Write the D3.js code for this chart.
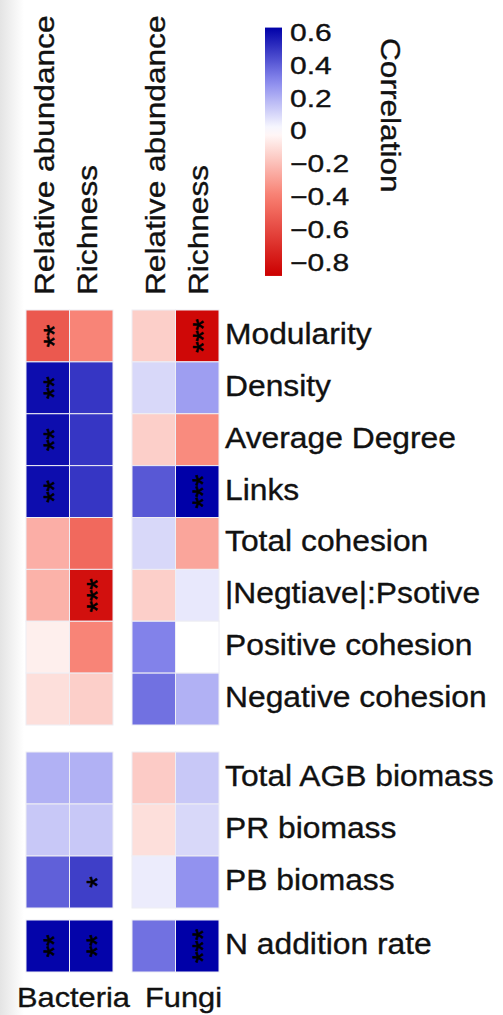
<!DOCTYPE html>
<html>
<head>
<meta charset="utf-8">
<script src="https://cdn.jsdelivr.net/npm/d3@7"></script>
<style>
  body { margin: 0; background: #fff; }
  svg text { font-family: "Liberation Sans", Arial, sans-serif; fill: #111; stroke: #111; stroke-width: 0.35px; }
</style>
</head>
<body>
<svg id="chart"></svg>
<script>
// row and column names
var row_labels = ["Modularity", "Density", "Average Degree", "Links", "Total cohesion",
  "|Negtiave|:Psotive", "Positive cohesion", "Negative cohesion",
  "Total AGB biomass", "PR biomass", "PB biomass", "N addition rate"];
var col_labels = ["Relative abundance", "Richness"];
var groups = ["Bacteria", "Fungi"];

// correlation values
var bac_ra   = [-0.54, 0.60, 0.60, 0.60, -0.25, -0.24, -0.05, -0.10, 0.20, 0.14, 0.40, 0.62];
var bac_rich = [-0.38, 0.50, 0.50, 0.50, -0.48, -0.82, -0.38, -0.15, 0.20, 0.14, 0.48, 0.62];
var fun_ra   = [-0.15, 0.10, -0.15, 0.42, 0.10, -0.15, 0.32, 0.36, -0.16, -0.10, 0.05, 0.36];
var fun_rich = [-0.85, 0.25, -0.36, 0.63, -0.28, 0.06, 0.00, 0.20, 0.14, 0.10, 0.28, 0.63];

// significance stars
var bac_ra_sig   = ["**", "**", "**", "**", "", "", "", "", "", "", "", "**"];
var bac_rich_sig = ["", "", "", "", "", "***", "", "", "", "", "*", "**"];
var fun_ra_sig   = ["", "", "", "", "", "", "", "", "", "", "", ""];
var fun_rich_sig = ["***", "", "", "***", "", "", "", "", "", "", "", "***"];

// legend ticks
var legend_ticks = [0.6, 0.4, 0.2, 0, -0.2, -0.4, -0.6, -0.8];
var value_range = [-0.885, 0.63];

var width = 503, height = 1015;
var svg = d3.select("#chart").attr("width", width).attr("height", height);

// faint grey at the left edge
var defs = svg.append("defs");
var edge = defs.append("linearGradient").attr("id", "edge");
edge.append("stop").attr("offset", "0%").attr("stop-color", "#e4e4e4");
edge.append("stop").attr("offset", "100%").attr("stop-color", "#ffffff");
svg.append("rect").attr("x", 0).attr("y", 0).attr("width", 24).attr("height", height)
   .attr("fill", "url(#edge)");

var color = d3.scaleLinear()
  .domain([-0.88, -0.4, 0, 0.3, 0.63])
  .range(["#cc0000", "#f87e70", "#ffffff", "#8a8aee", "#0000a8"])
  .clamp(true);

// columns: one band scale per group
var x_bac = d3.scaleBand().domain(col_labels).range([26, 113]);
var x_fun = d3.scaleBand().domain(col_labels).range([132, 219]);

// rows sit in three blocks
var blocks = [
  { rows: row_labels.slice(0, 8), range: [310, 725] },
  { rows: row_labels.slice(8, 11), range: [752, 908] },
  { rows: row_labels.slice(11), range: [920, 972] }
];
var y_scales = blocks.map(b => d3.scaleBand().domain(b.rows).range(b.range));
function y_of(name) {
  for (var i = 0; i < blocks.length; i++) {
    if (blocks[i].rows.indexOf(name) >= 0) return y_scales[i];
  }
}

var series = [
  { x: x_bac, col: col_labels[0], vals: bac_ra, sig: bac_ra_sig },
  { x: x_bac, col: col_labels[1], vals: bac_rich, sig: bac_rich_sig },
  { x: x_fun, col: col_labels[0], vals: fun_ra, sig: fun_ra_sig },
  { x: x_fun, col: col_labels[1], vals: fun_rich, sig: fun_rich_sig }
];

var cells = [];
series.forEach(function(s) {
  row_labels.forEach(function(r, i) {
    cells.push({ x: s.x, col: s.col, row: r, v: s.vals[i], sig: s.sig[i] });
  });
});

var g = svg.append("g");
g.selectAll("rect.cell")
  .data(cells)
  .enter()
  .append("rect")
  .attr("class", "cell")
  .attr("x", d => d.x(d.col))
  .attr("y", d => y_of(d.row)(d.row))
  .attr("width", d => d.x.bandwidth())
  .attr("height", d => y_of(d.row).bandwidth())
  .attr("fill", d => color(d.v))
  .attr("stroke", "#eeeef4")
  .attr("stroke-width", 1);

g.selectAll("text.sig")
  .data(cells.filter(d => d.sig !== ""))
  .enter()
  .append("text")
  .attr("class", "sig")
  .attr("transform", function(d) {
    var cx = d.x(d.col) + d.x.bandwidth() / 2;
    var cy = y_of(d.row)(d.row) + y_of(d.row).bandwidth() / 2;
    return "translate(" + cx + "," + cy + ") rotate(-90)";
  })
  .attr("text-anchor", "middle")
  .attr("dy", "0.55em")
  .attr("font-size", 29)
  .style("fill", "#000")
  .style("stroke", "#000")
  .style("stroke-width", "0.6px")
  .text(d => d.sig);

// row labels on the right
g.selectAll("text.row")
  .data(row_labels)
  .enter()
  .append("text")
  .attr("class", "row")
  .attr("transform", function(d) {
    var y = y_of(d)(d) + y_of(d).bandwidth() / 2 + 8;
    return "translate(225," + y + ") scale(1.06,1)";
  })
  .attr("font-size", 30)
  .text(d => d);

// column headers, rotated
var heads = [];
[x_bac, x_fun].forEach(function(xs, gi) {
  col_labels.forEach(function(c) {
    heads.push({ x: xs(c) + xs.bandwidth() / 2 + (gi === 0 ? 6 : 11), text: c });
  });
});
g.selectAll("text.head")
  .data(heads)
  .enter()
  .append("text")
  .attr("class", "head")
  .attr("transform", d => "translate(" + d.x + ",295) rotate(-90) scale(1.15,1)")
  .attr("font-size", 27.5)
  .text(d => d.text);

// group labels at the bottom
g.append("text")
  .attr("transform", "translate(" + (x_bac.range()[0] - 9) + ",1007) scale(1.08,1)")
  .attr("font-size", 28.5)
  .text(groups[0]);
g.append("text")
  .attr("transform", "translate(" + (x_fun.range()[0] + 13) + ",1007) scale(1.08,1)")
  .attr("font-size", 28.5)
  .text(groups[1]);

// colour bar legend
var ly = d3.scaleLinear().domain([0.6, -0.8]).range([32.5, 262]);
var grad = defs.append("linearGradient").attr("id", "bar")
  .attr("x1", 0).attr("y1", 0).attr("x2", 0).attr("y2", 1);
var nstops = 30;
d3.range(nstops + 1).forEach(function(i) {
  var v = value_range[1] - (value_range[1] - value_range[0]) * i / nstops;
  grad.append("stop").attr("offset", (i / nstops * 100) + "%").attr("stop-color", color(v));
});
svg.append("rect")
  .attr("x", 265)
  .attr("y", ly(value_range[1]))
  .attr("width", 17)
  .attr("height", ly(value_range[0]) - ly(value_range[1]))
  .attr("fill", "url(#bar)");

svg.selectAll("text.tick")
  .data(legend_ticks)
  .enter()
  .append("text")
  .attr("class", "tick")
  .attr("transform", d => "translate(290," + (ly(d) + 8.5) + ") scale(1.25,1)")
  .attr("font-size", 24)
  .text(d => d3.format("")(d).replace("-", "\u2212"));

svg.append("text")
  .attr("transform", "translate(381,38) rotate(90) scale(1.15,1)")
  .attr("font-size", 27.5)
  .text("Correlation");
</script>
</body>
</html>
